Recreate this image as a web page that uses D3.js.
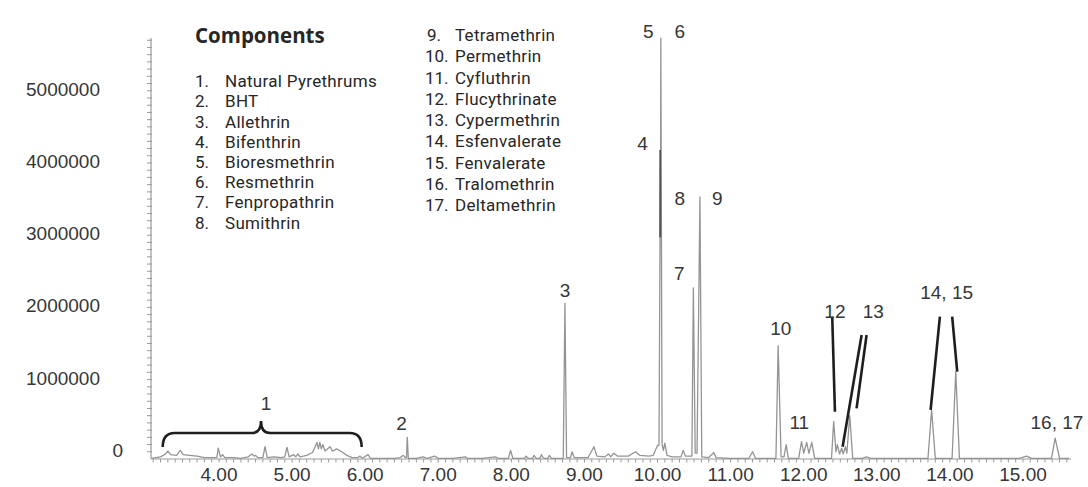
<!DOCTYPE html>
<html>
<head>
<meta charset="utf-8">
<script src="https://cdn.jsdelivr.net/npm/d3@7/dist/d3.min.js"></script>
<style>
  html, body { margin: 0; padding: 0; background: #ffffff; }
  svg { display: block; }
</style>
</head>
<body>
<svg id="chart" width="1088" height="487"></svg>
<script>
// Retention time (min) and detector signal (counts) of the chromatogram trace
const chromatogram = [
  [3.08, 0.01e6], [3.20, 0.03e6], [3.27, 0.07e6], [3.30, 0.11e6], [3.34, 0.06e6],
  [3.42, 0.05e6], [3.47, 0.12e6], [3.51, 0.06e6], [3.60, 0.05e6], [3.70, 0.04e6],
  [3.80, 0.02e6], [3.90, 0.02e6], [3.97, 0.02e6], [3.99, 0.15e6], [4.02, 0.03e6],
  [4.05, 0.06e6], [4.08, 0.02e6], [4.20, 0.02e6], [4.30, 0.01e6], [4.40, 0.03e6],
  [4.45, 0.07e6], [4.48, 0.04e6], [4.50, 0.05e6], [4.53, 0.02e6], [4.60, 0.02e6],
  [4.63, 0.17e6], [4.66, 0.02e6], [4.75, 0.03e6], [4.85, 0.02e6], [4.90, 0.03e6],
  [4.93, 0.16e6], [4.96, 0.03e6], [5.02, 0.06e6], [5.05, 0.03e6], [5.08, 0.07e6],
  [5.11, 0.03e6], [5.20, 0.05e6], [5.28, 0.09e6], [5.34, 0.23e6], [5.36, 0.14e6],
  [5.38, 0.23e6], [5.40, 0.14e6], [5.42, 0.20e6], [5.45, 0.11e6], [5.52, 0.17e6],
  [5.55, 0.11e6], [5.61, 0.14e6], [5.68, 0.10e6], [5.75, 0.05e6], [5.82, 0.02e6],
  [5.90, 0.02e6], [5.93, 0.04e6], [5.96, 0.01e6], [6.04, 0.06e6], [6.07, 0.01e6],
  [6.20, 0.01e6], [6.40, 0.01e6], [6.48, 0.02e6], [6.52, 0.05e6], [6.55, 0.02e6],
  [6.565, 0.02e6], [6.576, 0.30e6], [6.59, 0.01e6], [6.70, 0.01e6], [6.79, 0.03e6],
  [6.85, 0.01e6], [6.95, 0.04e6], [7.00, 0.01e6], [7.20, 0.01e6], [7.37, 0.03e6],
  [7.40, 0.01e6], [7.60, 0.01e6], [7.78, 0.03e6], [7.82, 0.01e6], [7.96, 0.01e6],
  [7.99, 0.12e6], [8.02, 0.01e6], [8.18, 0.01e6], [8.20, 0.04e6], [8.23, 0.01e6],
  [8.29, 0.01e6], [8.31, 0.05e6], [8.34, 0.01e6], [8.39, 0.01e6], [8.41, 0.06e6],
  [8.44, 0.01e6], [8.50, 0.01e6], [8.52, 0.05e6], [8.55, 0.01e6], [8.71, 0.01e6],
  [8.733, 2.16e6], [8.755, 0.02e6], [8.81, 0.02e6], [8.83, 0.10e6], [8.86, 0.02e6],
  [9.05, 0.02e6], [9.13, 0.17e6], [9.17, 0.04e6], [9.28, 0.03e6], [9.33, 0.07e6],
  [9.36, 0.03e6], [9.40, 0.08e6], [9.45, 0.04e6], [9.60, 0.04e6], [9.70, 0.10e6],
  [9.76, 0.05e6], [9.88, 0.04e6], [9.94, 0.05e6], [10.00, 0.19e6], [10.02, 0.19e6],
  [10.034, 3.07e6], [10.037, 4.28e6], [10.040, 3.07e6], [10.045, 5.83e6], [10.062, 0.20e6],
  [10.08, 0.12e6], [10.10, 0.22e6], [10.13, 0.05e6], [10.20, 0.03e6], [10.32, 0.03e6],
  [10.35, 0.12e6], [10.38, 0.04e6], [10.47, 0.04e6], [10.49, 2.37e6], [10.515, 0.08e6],
  [10.54, 0.08e6], [10.58, 3.63e6], [10.605, 0.03e6], [10.70, 0.02e6], [10.77, 0.09e6],
  [10.80, 0.02e6], [11.00, 0.01e6], [11.25, 0.01e6], [11.30, 0.10e6], [11.34, 0.01e6],
  [11.62, 0.01e6], [11.65, 1.57e6], [11.69, 0.03e6], [11.73, 0.03e6], [11.76, 0.20e6],
  [11.79, 0.01e6], [11.93, 0.01e6], [11.97, 0.24e6], [12.00, 0.08e6], [12.04, 0.23e6],
  [12.07, 0.08e6], [12.11, 0.23e6], [12.15, 0.01e6], [12.38, 0.01e6], [12.41, 0.52e6],
  [12.44, 0.10e6], [12.46, 0.20e6], [12.49, 0.07e6], [12.52, 0.15e6], [12.54, 0.07e6],
  [12.57, 0.17e6], [12.59, 0.08e6], [12.63, 0.60e6], [12.67, 0.01e6], [12.80, 0.01e6],
  [12.86, 0.03e6], [12.92, 0.01e6], [13.70, 0.01e6], [13.75, 0.68e6], [13.80, 0.01e6],
  [14.03, 0.01e6], [14.08, 1.21e6], [14.13, 0.01e6], [14.95, 0.01e6], [15.05, 0.04e6],
  [15.12, 0.01e6], [15.39, 0.01e6], [15.44, 0.29e6], [15.50, 0.01e6], [15.63, 0.01e6]
];

// Apex of Bifenthrin riding on the Bioresmethrin/Resmethrin peak
const bifenthrinApex = [[10.034, 3.07e6], [10.037, 4.28e6], [10.040, 3.07e6]];

const componentsCol1 = ["Natural Pyrethrums", "BHT", "Allethrin", "Bifenthrin",
  "Bioresmethrin", "Resmethrin", "Fenpropathrin", "Sumithrin"];
const componentsCol2 = ["Tetramethrin", "Permethrin", "Cyfluthrin", "Flucythrinate",
  "Cypermethrin", "Esfenvalerate", "Fenvalerate", "Tralomethrin", "Deltamethrin"];

const xTickValues = [4, 5, 6, 7, 8, 9, 10, 11, 12, 13, 14, 15];
const yTickValues = [0, 1000000, 2000000, 3000000, 4000000, 5000000];

// Peak labels, placed at (time, signal) positions above their peaks
const peakLabels = [
  { text: "1", t: 4.643, v: 0.776e6 },
  { text: "2", t: 6.499, v: 0.499e6 },
  { text: "3", t: 8.733, v: 2.341e6 },
  { text: "4", t: 9.796, v: 4.381e6 },
  { text: "5", t: 9.873, v: 5.932e6 },
  { text: "6", t: 10.306, v: 5.932e6 },
  { text: "7", t: 10.297, v: 2.572e6 },
  { text: "8", t: 10.306, v: 3.611e6 },
  { text: "9", t: 10.817, v: 3.615e6 },
  { text: "10", t: 11.685, v: 1.810e6 },
  { text: "11", t: 11.939, v: 0.517e6 },
  { text: "12", t: 12.427, v: 2.054e6 },
  { text: "13", t: 12.951, v: 2.054e6 },
  { text: "14, 15", t: 13.955, v: 2.317e6 },
  { text: "16, 17", t: 15.464, v: 0.517e6 }
];

// Leader lines from labels to crowded peaks
const leaders = [
  [[12.390, 1.971e6], [12.427, 0.655e6]],
  [[12.792, 1.717e6], [12.532, 0.170e6]],
  [[12.860, 1.717e6], [12.723, 0.702e6]],
  [[13.863, 1.971e6], [13.736, 0.679e6]],
  [[14.031, 1.971e6], [14.100, 1.209e6]]
];

const svg = d3.select("#chart");
svg.append("rect").attr("width", 1088).attr("height", 487).attr("fill", "#ffffff");

const x = d3.scaleLinear().domain([4, 15]).range([219, 1023]);
const y = d3.scaleLinear().domain([0, 5000000]).range([459, 98]);

const tMin = x.invert(151), tMax = x.invert(1071);
const vMax = y.invert(38);

const axisColor = "#9a9a9a";
const textColor = "#363636";
const labelFont = "'Liberation Sans', Arial, Helvetica, sans-serif";

// y axis: line with minor ticks every 100000
const yAxis = svg.append("g").attr("transform", "translate(151,0)");
yAxis.append("line")
  .attr("x1", 0).attr("x2", 0).attr("y1", y(0)).attr("y2", y(vMax))
  .attr("stroke", axisColor).attr("stroke-width", 1.2);
yAxis.selectAll("line.tick")
  .data(d3.range(1e5, vMax, 1e5))
  .join("line").attr("class", "tick")
  .attr("x1", -4).attr("x2", 1)
  .attr("y1", d => y(d)).attr("y2", d => y(d))
  .attr("stroke", axisColor).attr("stroke-width", 1);

svg.append("g").selectAll("text")
  .data(yTickValues)
  .join("text")
  .attr("x", d => d === 0 ? 123 : 100)
  .attr("y", d => y(d) - 9)
  .attr("dy", "0.36em")
  .attr("text-anchor", "end")
  .attr("font-family", labelFont)
  .attr("font-size", 19)
  .attr("fill", textColor)
  .text(d => d3.format("d")(d));

// x axis: baseline with minor ticks every 0.1 min, labels every minute
const xAxis = svg.append("g").attr("transform", `translate(0,${y(0)})`);
xAxis.append("line")
  .attr("x1", x(tMin)).attr("x2", x(tMax)).attr("y1", 0).attr("y2", 0)
  .attr("stroke", axisColor).attr("stroke-width", 1.2);
xAxis.selectAll("line.tick")
  .data(d3.range(31, 157).map(d => d / 10))
  .join("line").attr("class", "tick")
  .attr("x1", d => x(d)).attr("x2", d => x(d))
  .attr("y1", 0).attr("y2", 3.5)
  .attr("stroke", axisColor).attr("stroke-width", 1);
xAxis.selectAll("text")
  .data(xTickValues)
  .join("text")
  .attr("x", d => x(d))
  .attr("y", 15)
  .attr("dy", "0.36em")
  .attr("text-anchor", "middle")
  .attr("font-family", labelFont)
  .attr("font-size", 19)
  .attr("fill", textColor)
  .text(d => d3.format(".2f")(d));

// chromatogram trace
const line = d3.line().x(d => x(d[0])).y(d => y(d[1]));
svg.append("path")
  .datum(chromatogram)
  .attr("d", line)
  .attr("fill", "none")
  .attr("stroke", "#949494")
  .attr("stroke-width", 1.3)
  .attr("stroke-linejoin", "round");
svg.append("path")
  .datum(bifenthrinApex)
  .attr("d", line)
  .attr("fill", "none")
  .attr("stroke", "#555555")
  .attr("stroke-width", 1.6);

// brace spanning the natural pyrethrum region
const bx1 = x(3.23), bx2 = x(5.952), bxc = x(4.575);
const byEnd = y(0.166e6), byBar = y(0.360e6), byTip = y(0.526e6);
const r = 12;
svg.append("path")
  .attr("d", `M${bx1},${byEnd} Q${bx1},${byBar} ${bx1 + r},${byBar} L${bxc - 9},${byBar}` +
             ` Q${bxc},${byBar} ${bxc},${byTip} Q${bxc},${byBar} ${bxc + 9},${byBar}` +
             ` L${bx2 - r},${byBar} Q${bx2},${byBar} ${bx2},${byEnd}`)
  .attr("fill", "none")
  .attr("stroke", "#1e1e1e")
  .attr("stroke-width", 2.6);

// leader lines
svg.append("g").selectAll("line")
  .data(leaders)
  .join("line")
  .attr("x1", d => x(d[0][0])).attr("y1", d => y(d[0][1]))
  .attr("x2", d => x(d[1][0])).attr("y2", d => y(d[1][1]))
  .attr("stroke", "#1e1e1e")
  .attr("stroke-width", 2.6);

// peak labels
svg.append("g").selectAll("text")
  .data(peakLabels)
  .join("text")
  .attr("x", d => x(d.t))
  .attr("y", d => y(d.v))
  .attr("dy", "0.36em")
  .attr("text-anchor", "middle")
  .attr("font-family", labelFont)
  .attr("font-size", 19)
  .attr("fill", textColor)
  .text(d => d.text);

// component legend
const legend = svg.append("g").attr("fill", "#262626");
legend.append("text")
  .attr("x", 195).attr("y", 36).attr("dy", "0.36em")
  .attr("font-family", "'Open Sans', 'Noto Sans', sans-serif")
  .attr("font-size", 20.5).attr("font-weight", "bold")
  .text("Components");

const itemFont = "Roboto, 'Noto Sans', sans-serif";
const col1 = legend.append("g").attr("font-family", itemFont).attr("font-size", 17)
  .selectAll("g")
  .data(componentsCol1)
  .join("g")
  .attr("transform", (d, i) => `translate(0,${81 + i * 20.2})`);
col1.append("text").attr("x", 195).attr("dy", "0.36em")
  .text((d, i) => `${i + 1}.`);
col1.append("text").attr("x", 225).attr("dy", "0.36em")
  .attr("letter-spacing", 0.3)
  .text(d => d);

const col2 = legend.append("g").attr("font-family", itemFont).attr("font-size", 17)
  .selectAll("g")
  .data(componentsCol2)
  .join("g")
  .attr("transform", (d, i) => `translate(0,${35 + i * 21.25})`);
col2.append("text").attr("x", (d, i) => i === 0 ? 427 : 425).attr("dy", "0.36em")
  .text((d, i) => `${i + componentsCol1.length + 1}.`);
col2.append("text").attr("x", 455).attr("dy", "0.36em")
  .attr("letter-spacing", 0.3)
  .text(d => d);
</script>
</body>
</html>
